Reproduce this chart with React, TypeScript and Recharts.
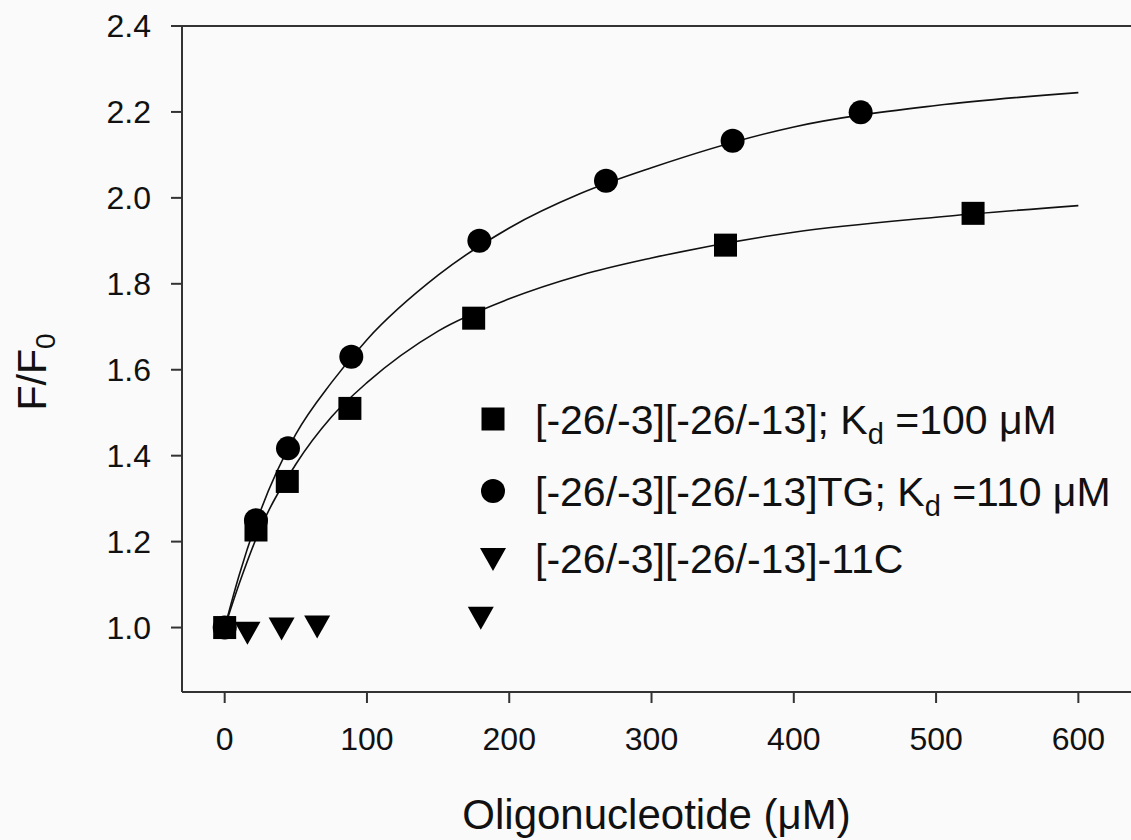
import React from "react";
import {
  ComposedChart,
  Line,
  Scatter,
  XAxis,
  YAxis,
  ReferenceLine,
} from "recharts";

const FONT = "'Liberation Sans', Arial, sans-serif";
const INK = "#111";

// axes
const X_TICKS = [0, 100, 200, 300, 400, 500, 600];
const Y_TICKS = [1.0, 1.2, 1.4, 1.6, 1.8, 2.0, 2.2, 2.4];

// [-26/-3][-26/-13] (squares)
const sqX = [0, 22, 44, 88, 175, 352, 526];
const sqY = [1.0, 1.227, 1.34, 1.51, 1.72, 1.89, 1.964];

// [-26/-3][-26/-13]TG (circles)
const ciX = [0, 22, 44.5, 89, 179, 268, 357, 447];
const ciY = [1.0, 1.25, 1.417, 1.63, 1.9, 2.04, 2.133, 2.199];

// [-26/-3][-26/-13]-11C (down triangles)
const trX = [16, 40, 65, 180];
const trY = [0.99, 1.0, 1.005, 1.025];

// fitted curves
const fitX = [0, 10, 25, 50, 75, 100, 150, 200, 250, 300, 400, 500, 600];
const fitSq = [1.0, 1.1, 1.23, 1.38, 1.49, 1.57, 1.69, 1.765, 1.82, 1.86, 1.92, 1.955, 1.982];
const fitCi = [1.0, 1.12, 1.27, 1.45, 1.57, 1.67, 1.82, 1.93, 2.01, 2.07, 2.165, 2.215, 2.245];

const zip = (xs: number[], ys: number[]) => xs.map((x, i) => ({ x, y: ys[i] }));

const squares = zip(sqX, sqY);
const circles = zip(ciX, ciY);
const triangles = zip(trX, trY);
const fitSquares = zip(fitX, fitSq);
const fitCircles = zip(fitX, fitCi);

const Square = ({ cx, cy }: any) => <rect x={cx - 11.5} y={cy - 11.5} width={23} height={23} fill="#000" />;
const Circle = ({ cx, cy }: any) => <circle cx={cx} cy={cy} r={12} fill="#000" />;
const DownTri = ({ cx, cy }: any) => (
  <polygon points={`${cx - 13},${cy - 10} ${cx + 13},${cy - 10} ${cx},${cy + 13}`} fill="#000" />
);

const XTitle = ({ viewBox }: any) => (
  <text x={viewBox.x + viewBox.width / 2} y={829} textAnchor="middle" fontSize={42} fontFamily={FONT} fill={INK}>
    Oligonucleotide (μM)
  </text>
);

const YTitle = () => (
  <text transform="translate(46, 372) rotate(-90)" textAnchor="middle" fontSize={41} fontFamily={FONT} fill={INK}>
    F/F<tspan dy={9} fontSize={28}>0</tspan>
  </text>
);

const LegendBlock = () => {
  const rows = [
    { y: 419, mark: <Square cx={493} cy={419} />, label: "[-26/-3][-26/-13]; K", kd: " =100 μM" },
    { y: 491, mark: <Circle cx={493} cy={491} />, label: "[-26/-3][-26/-13]TG; K", kd: " =110 μM" },
    { y: 558, mark: <DownTri cx={493} cy={558} />, label: "[-26/-3][-26/-13]-11C", kd: null },
  ];
  return (
    <g>
      {rows.map((r, i) => (
        <g key={i}>
          {r.mark}
          <text x={535} y={r.y + 15} fontSize={41} fontFamily={FONT} fill={INK}>
            {r.label}
            {r.kd && (
              <>
                <tspan dy={10} fontSize={29}>d</tspan>
                <tspan dy={-10}>{r.kd}</tspan>
              </>
            )}
          </text>
        </g>
      ))}
    </g>
  );
};

export default function App() {
  return (
    <div style={{ position: "fixed", left: 0, top: 0, width: 1131, height: 840, background: "#fafafa" }}>
      <ComposedChart width={1131} height={840} margin={{ top: 26, right: 0, bottom: 48, left: 32 }}>
        <XAxis
          type="number"
          dataKey="x"
          domain={[-30, 637]}
          ticks={X_TICKS}
          allowDataOverflow
          height={100}
          tickSize={11}
          tickMargin={24}
          stroke="#333"
          strokeWidth={2}
          tick={{ fill: INK, fontSize: 32, fontFamily: FONT }}
          label={<XTitle />}
        />
        <YAxis
          type="number"
          dataKey="y"
          domain={[0.85, 2.4]}
          ticks={Y_TICKS}
          allowDataOverflow
          width={150}
          tickSize={11}
          tickMargin={20}
          stroke="#333"
          strokeWidth={2}
          tickFormatter={(v: number) => v.toFixed(1)}
          tick={{ fill: INK, fontSize: 32, fontFamily: FONT }}
          label={<YTitle />}
        />
        <ReferenceLine y={2.4} stroke="#333" strokeWidth={2} />
        <Line data={fitSquares} dataKey="y" type="monotone" stroke="#111" strokeWidth={1.6} dot={false} isAnimationActive={false} />
        <Line data={fitCircles} dataKey="y" type="monotone" stroke="#111" strokeWidth={1.6} dot={false} isAnimationActive={false} />
        <Scatter data={squares} dataKey="y" shape={Square} isAnimationActive={false} />
        <Scatter data={circles} dataKey="y" shape={Circle} isAnimationActive={false} />
        <Scatter data={triangles} dataKey="y" shape={DownTri} isAnimationActive={false} />
        <LegendBlock />
      </ComposedChart>
    </div>
  );
}
